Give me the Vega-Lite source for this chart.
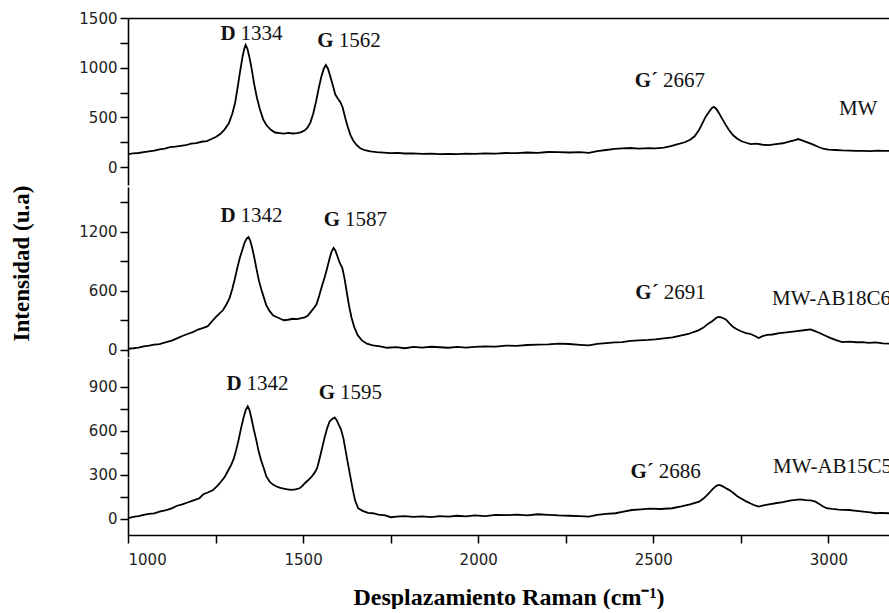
{
  "$schema": "https://vega.github.io/schema/vega-lite/v6.json",
  "padding": {"left": 10, "top": 11, "right": 0, "bottom": 0},
  "spacing": 0,
  "config": {
    "view": {"stroke": null},
    "axis": {"domainColor": "black", "domainWidth": 1.6, "tickColor": "black", "tickWidth": 1.5, "tickSize": 8, "labelFont": "DejaVu Sans", "labelFontSize": 15, "labelColor": "#222", "grid": false, "labelPadding": 3, "format": "d"},
    "text": {"font": "Liberation Serif", "fontSize": 21, "color": "#111", "baseline": "alphabetic"}
  },
  "datasets": {
    "mw": [{"w":1000,"v":131},{"w":1015,"v":138},{"w":1030,"v":142},{"w":1045,"v":150},{"w":1060,"v":158},{"w":1075,"v":165},{"w":1090,"v":178},{"w":1105,"v":185},{"w":1120,"v":200},{"w":1135,"v":206},{"w":1150,"v":214},{"w":1165,"v":220},{"w":1180,"v":236},{"w":1195,"v":242},{"w":1210,"v":255},{"w":1225,"v":262},{"w":1240,"v":285},{"w":1252,"v":305},{"w":1264,"v":335},{"w":1276,"v":380},{"w":1288,"v":440},{"w":1298,"v":540},{"w":1306,"v":650},{"w":1313,"v":800},{"w":1320,"v":960},{"w":1327,"v":1110},{"w":1332,"v":1190},{"w":1336,"v":1229},{"w":1341,"v":1190},{"w":1347,"v":1100},{"w":1353,"v":990},{"w":1360,"v":840},{"w":1368,"v":700},{"w":1376,"v":590},{"w":1386,"v":480},{"w":1395,"v":423},{"w":1408,"v":375},{"w":1420,"v":348},{"w":1432,"v":342},{"w":1445,"v":336},{"w":1458,"v":344},{"w":1470,"v":338},{"w":1483,"v":342},{"w":1495,"v":352},{"w":1505,"v":370},{"w":1513,"v":400},{"w":1521,"v":450},{"w":1529,"v":540},{"w":1537,"v":660},{"w":1545,"v":800},{"w":1552,"v":909},{"w":1559,"v":990},{"w":1565,"v":1027},{"w":1571,"v":990},{"w":1578,"v":910},{"w":1585,"v":820},{"w":1592,"v":730},{"w":1599,"v":690},{"w":1606,"v":655},{"w":1613,"v":600},{"w":1620,"v":500},{"w":1627,"v":410},{"w":1635,"v":325},{"w":1643,"v":268},{"w":1652,"v":225},{"w":1663,"v":190},{"w":1676,"v":170},{"w":1692,"v":158},{"w":1710,"v":150},{"w":1730,"v":146},{"w":1750,"v":140},{"w":1770,"v":143},{"w":1790,"v":137},{"w":1814,"v":138},{"w":1840,"v":134},{"w":1865,"v":136},{"w":1890,"v":131},{"w":1915,"v":134},{"w":1940,"v":130},{"w":1965,"v":136},{"w":1990,"v":133},{"w":2020,"v":138},{"w":2050,"v":136},{"w":2080,"v":142},{"w":2110,"v":140},{"w":2140,"v":147},{"w":2170,"v":144},{"w":2200,"v":152},{"w":2230,"v":150},{"w":2260,"v":147},{"w":2290,"v":150},{"w":2316,"v":144},{"w":2340,"v":160},{"w":2365,"v":172},{"w":2390,"v":183},{"w":2411,"v":188},{"w":2435,"v":192},{"w":2460,"v":186},{"w":2485,"v":190},{"w":2506,"v":188},{"w":2530,"v":196},{"w":2550,"v":210},{"w":2570,"v":232},{"w":2590,"v":250},{"w":2605,"v":275},{"w":2618,"v":310},{"w":2630,"v":370},{"w":2640,"v":440},{"w":2650,"v":510},{"w":2658,"v":550},{"w":2666,"v":590},{"w":2673,"v":607},{"w":2680,"v":585},{"w":2688,"v":540},{"w":2696,"v":490},{"w":2706,"v":430},{"w":2716,"v":373},{"w":2728,"v":320},{"w":2740,"v":285},{"w":2752,"v":260},{"w":2765,"v":245},{"w":2778,"v":232},{"w":2795,"v":236},{"w":2812,"v":225},{"w":2830,"v":221},{"w":2850,"v":232},{"w":2870,"v":240},{"w":2890,"v":258},{"w":2905,"v":272},{"w":2913,"v":282},{"w":2925,"v":268},{"w":2940,"v":248},{"w":2955,"v":228},{"w":2970,"v":205},{"w":2985,"v":185},{"w":3000,"v":176},{"w":3020,"v":172},{"w":3040,"v":168},{"w":3060,"v":166},{"w":3080,"v":163},{"w":3100,"v":164},{"w":3120,"v":161},{"w":3140,"v":166},{"w":3160,"v":163},{"w":3173,"v":164}],
    "ab18": [{"w":1000,"v":10},{"w":1015,"v":15},{"w":1030,"v":22},{"w":1045,"v":35},{"w":1060,"v":42},{"w":1075,"v":52},{"w":1090,"v":58},{"w":1109,"v":78},{"w":1125,"v":92},{"w":1140,"v":115},{"w":1155,"v":140},{"w":1170,"v":160},{"w":1185,"v":178},{"w":1200,"v":205},{"w":1215,"v":222},{"w":1228,"v":240},{"w":1240,"v":290},{"w":1250,"v":330},{"w":1260,"v":365},{"w":1271,"v":401},{"w":1281,"v":460},{"w":1290,"v":525},{"w":1298,"v":620},{"w":1305,"v":720},{"w":1312,"v":830},{"w":1319,"v":930},{"w":1326,"v":1010},{"w":1333,"v":1090},{"w":1339,"v":1130},{"w":1344,"v":1146},{"w":1349,"v":1110},{"w":1355,"v":1030},{"w":1361,"v":930},{"w":1367,"v":820},{"w":1374,"v":700},{"w":1381,"v":610},{"w":1388,"v":530},{"w":1395,"v":452},{"w":1404,"v":395},{"w":1414,"v":350},{"w":1424,"v":333},{"w":1435,"v":315},{"w":1445,"v":300},{"w":1457,"v":305},{"w":1471,"v":315},{"w":1483,"v":312},{"w":1495,"v":322},{"w":1505,"v":330},{"w":1513,"v":345},{"w":1522,"v":385},{"w":1530,"v":420},{"w":1538,"v":460},{"w":1546,"v":550},{"w":1554,"v":650},{"w":1561,"v":730},{"w":1568,"v":820},{"w":1575,"v":920},{"w":1581,"v":995},{"w":1587,"v":1035},{"w":1592,"v":1010},{"w":1598,"v":950},{"w":1605,"v":880},{"w":1612,"v":830},{"w":1618,"v":730},{"w":1624,"v":600},{"w":1631,"v":450},{"w":1638,"v":330},{"w":1646,"v":230},{"w":1656,"v":146},{"w":1668,"v":95},{"w":1682,"v":62},{"w":1699,"v":45},{"w":1720,"v":35},{"w":1740,"v":20},{"w":1766,"v":27},{"w":1790,"v":15},{"w":1815,"v":28},{"w":1840,"v":22},{"w":1865,"v":30},{"w":1890,"v":25},{"w":1915,"v":20},{"w":1940,"v":28},{"w":1965,"v":22},{"w":1990,"v":30},{"w":2020,"v":35},{"w":2050,"v":32},{"w":2080,"v":42},{"w":2110,"v":40},{"w":2140,"v":48},{"w":2170,"v":52},{"w":2200,"v":55},{"w":2230,"v":62},{"w":2260,"v":58},{"w":2290,"v":50},{"w":2316,"v":45},{"w":2340,"v":60},{"w":2365,"v":68},{"w":2390,"v":75},{"w":2411,"v":78},{"w":2435,"v":90},{"w":2460,"v":95},{"w":2485,"v":100},{"w":2506,"v":106},{"w":2530,"v":115},{"w":2555,"v":125},{"w":2581,"v":146},{"w":2600,"v":160},{"w":2615,"v":180},{"w":2629,"v":197},{"w":2643,"v":225},{"w":2657,"v":265},{"w":2670,"v":295},{"w":2680,"v":325},{"w":2686,"v":333},{"w":2693,"v":330},{"w":2700,"v":320},{"w":2708,"v":305},{"w":2718,"v":265},{"w":2728,"v":230},{"w":2740,"v":205},{"w":2752,"v":185},{"w":2765,"v":170},{"w":2778,"v":160},{"w":2790,"v":140},{"w":2801,"v":119},{"w":2812,"v":138},{"w":2825,"v":150},{"w":2840,"v":155},{"w":2860,"v":168},{"w":2887,"v":180},{"w":2910,"v":190},{"w":2930,"v":198},{"w":2949,"v":207},{"w":2960,"v":192},{"w":2975,"v":170},{"w":2990,"v":145},{"w":3005,"v":120},{"w":3020,"v":100},{"w":3039,"v":78},{"w":3060,"v":82},{"w":3080,"v":76},{"w":3097,"v":78},{"w":3115,"v":70},{"w":3135,"v":75},{"w":3155,"v":65},{"w":3173,"v":61}],
    "ab15": [{"w":1000,"v":5},{"w":1015,"v":15},{"w":1030,"v":20},{"w":1045,"v":28},{"w":1060,"v":35},{"w":1075,"v":38},{"w":1090,"v":50},{"w":1109,"v":61},{"w":1125,"v":72},{"w":1140,"v":90},{"w":1155,"v":100},{"w":1170,"v":112},{"w":1185,"v":125},{"w":1204,"v":141},{"w":1215,"v":168},{"w":1228,"v":180},{"w":1242,"v":195},{"w":1255,"v":225},{"w":1266,"v":255},{"w":1276,"v":285},{"w":1286,"v":330},{"w":1295,"v":370},{"w":1302,"v":410},{"w":1309,"v":470},{"w":1316,"v":540},{"w":1323,"v":620},{"w":1330,"v":690},{"w":1336,"v":740},{"w":1342,"v":766},{"w":1347,"v":740},{"w":1353,"v":680},{"w":1359,"v":610},{"w":1366,"v":540},{"w":1373,"v":460},{"w":1380,"v":400},{"w":1387,"v":350},{"w":1395,"v":289},{"w":1405,"v":252},{"w":1415,"v":232},{"w":1424,"v":221},{"w":1435,"v":212},{"w":1445,"v":206},{"w":1455,"v":202},{"w":1466,"v":198},{"w":1478,"v":202},{"w":1490,"v":209},{"w":1498,"v":225},{"w":1505,"v":243},{"w":1515,"v":265},{"w":1525,"v":290},{"w":1533,"v":315},{"w":1540,"v":345},{"w":1547,"v":410},{"w":1555,"v":490},{"w":1562,"v":560},{"w":1569,"v":620},{"w":1576,"v":665},{"w":1583,"v":680},{"w":1590,"v":690},{"w":1596,"v":672},{"w":1602,"v":640},{"w":1608,"v":610},{"w":1615,"v":550},{"w":1621,"v":470},{"w":1627,"v":390},{"w":1634,"v":300},{"w":1641,"v":210},{"w":1648,"v":130},{"w":1657,"v":73},{"w":1670,"v":55},{"w":1685,"v":42},{"w":1699,"v":39},{"w":1715,"v":30},{"w":1735,"v":25},{"w":1750,"v":12},{"w":1766,"v":16},{"w":1790,"v":20},{"w":1815,"v":14},{"w":1840,"v":18},{"w":1865,"v":12},{"w":1890,"v":20},{"w":1915,"v":16},{"w":1940,"v":22},{"w":1965,"v":18},{"w":1990,"v":24},{"w":2020,"v":20},{"w":2050,"v":28},{"w":2080,"v":26},{"w":2110,"v":30},{"w":2140,"v":25},{"w":2170,"v":32},{"w":2200,"v":28},{"w":2230,"v":24},{"w":2260,"v":22},{"w":2290,"v":20},{"w":2316,"v":16},{"w":2340,"v":28},{"w":2365,"v":35},{"w":2392,"v":39},{"w":2415,"v":50},{"w":2439,"v":61},{"w":2465,"v":65},{"w":2490,"v":70},{"w":2520,"v":68},{"w":2554,"v":73},{"w":2580,"v":85},{"w":2605,"v":100},{"w":2631,"v":118},{"w":2645,"v":142},{"w":2659,"v":175},{"w":2670,"v":205},{"w":2680,"v":225},{"w":2688,"v":232},{"w":2696,"v":225},{"w":2705,"v":212},{"w":2716,"v":198},{"w":2728,"v":178},{"w":2740,"v":155},{"w":2752,"v":138},{"w":2765,"v":120},{"w":2778,"v":105},{"w":2790,"v":92},{"w":2801,"v":84},{"w":2815,"v":92},{"w":2830,"v":100},{"w":2849,"v":107},{"w":2870,"v":115},{"w":2890,"v":125},{"w":2906,"v":130},{"w":2920,"v":133},{"w":2935,"v":128},{"w":2950,"v":126},{"w":2963,"v":118},{"w":2975,"v":100},{"w":2985,"v":85},{"w":2995,"v":73},{"w":3010,"v":68},{"w":3030,"v":64},{"w":3059,"v":61},{"w":3080,"v":55},{"w":3100,"v":50},{"w":3120,"v":45},{"w":3135,"v":39},{"w":3150,"v":42},{"w":3173,"v":39}],
    "lab": [
      {"s":"MW","t":"D","n":"1334","w":1313,"v":1279},
      {"s":"MW","t":"G","n":"1562","w":1593,"v":1208},
      {"s":"MW","t":"G´","n":"2667","w":2519,"v":806},
      {"s":"AB18","t":"D","n":"1342","w":1313,"v":1304},
      {"s":"AB18","t":"G","n":"1587","w":1611,"v":1258},
      {"s":"AB18","t":"G´","n":"2691","w":2521,"v":519},
      {"s":"AB15","t":"D","n":"1342","w":1330,"v":879},
      {"s":"AB15","t":"G","n":"1595","w":1597,"v":818},
      {"s":"AB15","t":"G´","n":"2686","w":2507,"v":277}
    ],
    "names": [
      {"s":"MW","name":"MW","w":3030,"v":524},
      {"s":"AB18","name":"MW-AB18C6","w":2839,"v":452},
      {"s":"AB15","name":"MW-AB15C5","w":2842,"v":312}
    ]
  },
  "vconcat": [
    {
      "width": 761, "height": 167,
      "encoding": {
        "x": {"field": "w", "type": "quantitative", "scale": {"domain": [1000, 3173], "nice": false, "zero": false},
              "axis": {"orient": "top", "labels": false, "ticks": false, "title": null}},
        "y": {"field": "v", "type": "quantitative", "scale": {"domain": [-180, 1500], "nice": false, "zero": false},
              "axis": {"title": null, "values": [0, 250, 500, 750, 1000, 1250, 1500], "labelExpr": "datum.value % 500 === 0 ? datum.label : ''"}}
      },
      "layer": [
        {"data": {"name": "mw"}, "mark": {"type": "line", "color": "black", "strokeWidth": 1.8, "clip": true}},
        {"data": {"name": "lab"}, "transform": [{"filter": "datum.s === 'MW'"}], "mark": {"type": "text", "fontWeight": "bold", "align": "right", "dx": -2}, "encoding": {"text": {"field": "t"}}},
        {"data": {"name": "lab"}, "transform": [{"filter": "datum.s === 'MW'"}], "mark": {"type": "text", "align": "left", "dx": 3}, "encoding": {"text": {"field": "n"}}},
        {"data": {"name": "names"}, "transform": [{"filter": "datum.s === 'MW'"}], "mark": {"type": "text", "align": "left", "clip": true}, "encoding": {"text": {"field": "name"}}}
      ]
    },
    {
      "width": 761, "height": 170,
      "encoding": {
        "x": {"field": "w", "type": "quantitative", "scale": {"domain": [1000, 3173], "nice": false, "zero": false}, "axis": null},
        "y": {"field": "v", "type": "quantitative", "scale": {"domain": [-74, 1655], "nice": false, "zero": false},
              "axis": {"title": "Intensidad (u.a)", "titleFont": "Liberation Serif", "titleFontSize": 23, "titleFontWeight": "bold", "titleColor": "black", "titlePadding": 45, "titleY": 76,
                       "values": [0, 300, 600, 900, 1200, 1500], "labelExpr": "datum.value % 600 === 0 ? datum.label : ''"}}
      },
      "layer": [
        {"data": {"name": "ab18"}, "mark": {"type": "line", "color": "black", "strokeWidth": 1.8, "clip": true}},
        {"data": {"name": "lab"}, "transform": [{"filter": "datum.s === 'AB18'"}], "mark": {"type": "text", "fontWeight": "bold", "align": "right", "dx": -2}, "encoding": {"text": {"field": "t"}}},
        {"data": {"name": "lab"}, "transform": [{"filter": "datum.s === 'AB18'"}], "mark": {"type": "text", "align": "left", "dx": 3}, "encoding": {"text": {"field": "n"}}},
        {"data": {"name": "names"}, "transform": [{"filter": "datum.s === 'AB18'"}], "mark": {"type": "text", "align": "left", "clip": true}, "encoding": {"text": {"field": "name"}}}
      ]
    },
    {
      "width": 761, "height": 177,
      "encoding": {
        "x": {"field": "w", "type": "quantitative", "scale": {"domain": [1000, 3173], "nice": false, "zero": false},
              "axis": {"title": "Desplazamiento Raman (cm⁻¹)", "titleFont": "Liberation Serif", "titleFontSize": 24, "titleFontWeight": "bold", "titleColor": "black", "titlePadding": 18, "labelPadding": 9,
                       "values": [1000, 1250, 1500, 1750, 2000, 2250, 2500, 2750, 3000], "labelExpr": "datum.value % 500 === 0 ? datum.label : ''"}},
        "y": {"field": "v", "type": "quantitative", "scale": {"domain": [-109, 1095], "nice": false, "zero": false},
              "axis": {"title": null, "values": [0, 150, 300, 450, 600, 750, 900], "labelExpr": "datum.value % 300 === 0 ? datum.label : ''"}}
      },
      "layer": [
        {"data": {"name": "ab15"}, "mark": {"type": "line", "color": "black", "strokeWidth": 1.8, "clip": true}},
        {"data": {"name": "lab"}, "transform": [{"filter": "datum.s === 'AB15'"}], "mark": {"type": "text", "fontWeight": "bold", "align": "right", "dx": -2}, "encoding": {"text": {"field": "t"}}},
        {"data": {"name": "lab"}, "transform": [{"filter": "datum.s === 'AB15'"}], "mark": {"type": "text", "align": "left", "dx": 3}, "encoding": {"text": {"field": "n"}}},
        {"data": {"name": "names"}, "transform": [{"filter": "datum.s === 'AB15'"}], "mark": {"type": "text", "align": "left", "clip": true}, "encoding": {"text": {"field": "name"}}}
      ]
    }
  ]
}
